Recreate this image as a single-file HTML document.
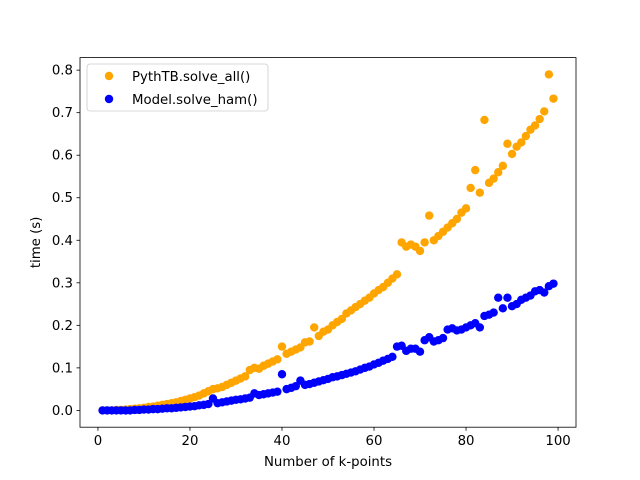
<!DOCTYPE html>
<html><head><meta charset="utf-8"><style>
body{margin:0;background:#fff;}
svg{display:block;font-family:"DejaVu Sans","Liberation Sans",sans-serif;}
</style></head><body>
<svg id="chart" width="640" height="480" viewBox="0 0 640 480">
<rect width="640" height="480" fill="#fff"/>
<g id="marks"></g>
<rect x="80" y="57.6" width="496" height="369.6" fill="none" stroke="#000" stroke-width="0.8"/>
<g id="xticks" font-size="13.3"></g>
<g id="yticks" font-size="13.3"></g>
<text x="328" y="466" text-anchor="middle" font-size="13.3">Number of k-points</text>
<text transform="translate(40,242.4) rotate(-90)" text-anchor="middle" font-size="13.3">time (s)</text>
<g>
<rect x="87" y="64" width="181" height="47" rx="3" fill="#fff" fill-opacity="0.8" stroke="#ccc" stroke-width="0.8"/>
<g><circle cx="109" cy="76" r="4.2" fill="orange"/><text x="132" y="81" font-size="13.3">PythTB.solve_all()</text></g>
<g><circle cx="109" cy="99" r="4.2" fill="blue"/><text x="132" y="104" font-size="13.3">Model.solve_ham()</text></g>
</g>
</svg>
<script>
const kpoints = Array.from({length:99},(_,i)=>i+1);
const solveAll = [0,0,0,0.001,0.001,0.002,0.003,0.004,0.005,0.006,
0.008,0.009,0.011,0.013,0.015,0.017,0.019,0.022,0.025,0.028,
0.031,0.035,0.04,0.045,0.05,0.052,0.055,0.06,0.065,0.07,
0.075,0.08,0.095,0.1,0.098,0.105,0.11,0.115,0.12,0.15,
0.133,0.138,0.143,0.148,0.16,0.162,0.195,0.175,0.185,0.19,
0.2,0.208,0.215,0.228,0.235,0.243,0.25,0.258,0.265,0.275,
0.283,0.29,0.3,0.31,0.32,0.395,0.385,0.39,0.385,0.375,
0.395,0.458,0.4,0.41,0.42,0.43,0.44,0.45,0.465,0.475,
0.523,0.565,0.512,0.683,0.535,0.545,0.56,0.575,0.627,0.603,
0.62,0.63,0.645,0.66,0.67,0.685,0.703,0.79,0.733];
const solveHam = [0,0,0,0,0,0,0,0.001,0.001,0.002,
0.002,0.003,0.003,0.004,0.005,0.005,0.006,0.007,0.008,0.009,
0.01,0.012,0.013,0.015,0.028,0.017,0.019,0.021,0.023,0.025,
0.026,0.028,0.03,0.04,0.036,0.038,0.04,0.042,0.044,0.085,
0.05,0.053,0.057,0.07,0.06,0.062,0.065,0.068,0.071,0.074,
0.078,0.08,0.083,0.086,0.089,0.092,0.096,0.1,0.103,0.108,
0.112,0.117,0.121,0.126,0.15,0.152,0.14,0.145,0.145,0.138,
0.165,0.172,0.162,0.165,0.17,0.19,0.193,0.188,0.19,0.195,
0.2,0.205,0.195,0.222,0.225,0.23,0.265,0.24,0.265,0.245,
0.25,0.26,0.265,0.27,0.28,0.283,0.277,0.292,0.298];
const xTicks = [0,20,40,60,80,100];
const yTicks = [0,0.1,0.2,0.3,0.4,0.5,0.6,0.7,0.8];

const X0=80,X1=576,Y0=427.2,Y1=57.6;
const xMin=-3.9,xMax=103.9,yMin=-0.0395,yMax=0.8295;
const xs=v=>X0+(v-xMin)/(xMax-xMin)*(X1-X0);
const ys=v=>Y0-(v-yMin)/(yMax-yMin)*(Y0-Y1);
const NS="http://www.w3.org/2000/svg";
const marks=document.getElementById('marks');
function series(vals,color,name){
  const g=document.createElementNS(NS,'g');
  
  
  vals.forEach((v,i)=>{
    const c=document.createElementNS(NS,'circle');
    c.setAttribute('cx',xs(kpoints[i]));c.setAttribute('cy',ys(v));
    c.setAttribute('r',4.2);c.setAttribute('fill',color);
    
    
    g.appendChild(c);
  });
  marks.appendChild(g);
}
series(solveAll,'orange','series-solve-all');
series(solveHam,'blue','series-solve-ham');
const xg=document.getElementById('xticks');
xTicks.forEach(t=>{
  const x=xs(t);
  const l=document.createElementNS(NS,'line');
  l.setAttribute('x1',x);l.setAttribute('x2',x);l.setAttribute('y1',Y0);l.setAttribute('y2',Y0+3.5);
  l.setAttribute('stroke','#000');l.setAttribute('stroke-width','0.8');
  
  
  xg.appendChild(l);
  const tx=document.createElementNS(NS,'text');
  tx.setAttribute('x',x);tx.setAttribute('y',Y0+18);tx.setAttribute('text-anchor','middle');
  tx.textContent=t;
  
  
  xg.appendChild(tx);
});
const yg=document.getElementById('yticks');
yTicks.forEach(t=>{
  const y=ys(t);
  const l=document.createElementNS(NS,'line');
  l.setAttribute('x1',X0-3.5);l.setAttribute('x2',X0);l.setAttribute('y1',y);l.setAttribute('y2',y);
  l.setAttribute('stroke','#000');l.setAttribute('stroke-width','0.8');
  
  
  yg.appendChild(l);
  const tx=document.createElementNS(NS,'text');
  tx.setAttribute('x',X0-7);tx.setAttribute('y',y+4.5);tx.setAttribute('text-anchor','end');
  tx.textContent=t.toFixed(1);
  
  
  yg.appendChild(tx);
});
</script>
</body></html>
